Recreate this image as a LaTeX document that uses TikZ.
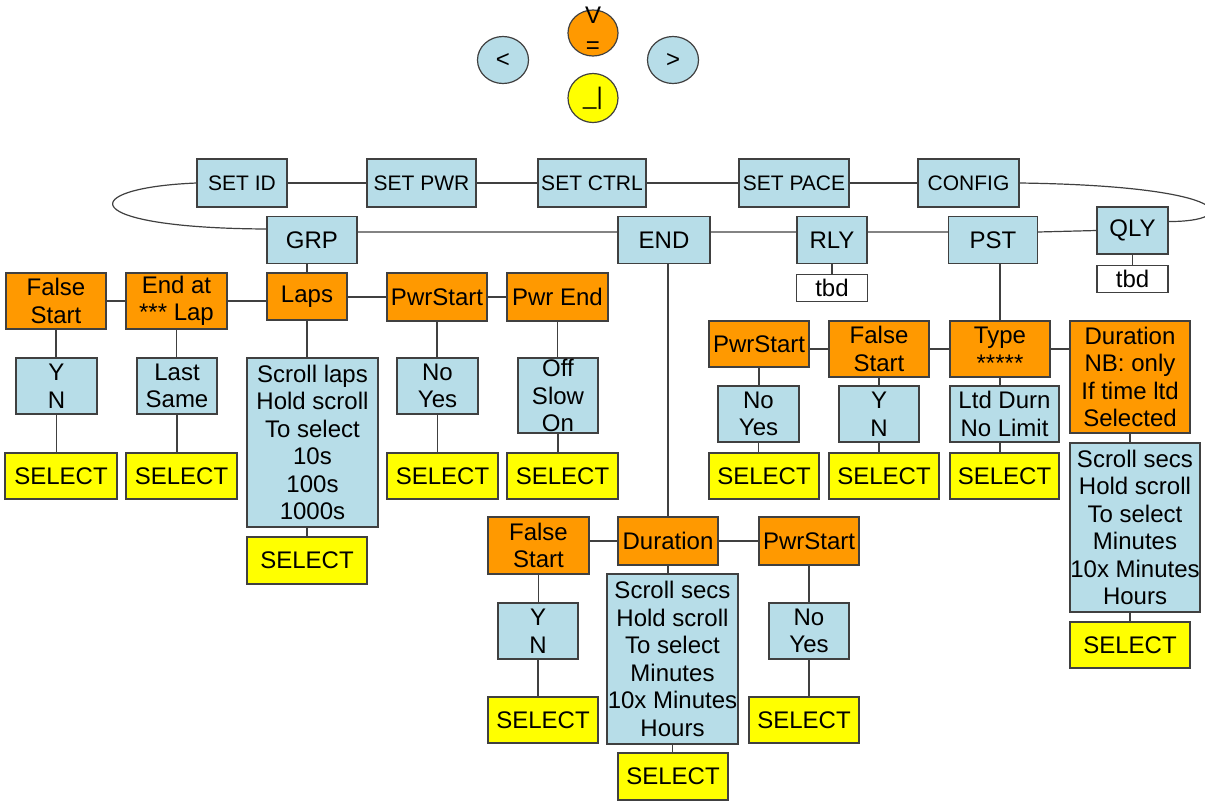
\documentclass[tikz,border=0pt]{standalone}
\usepackage{fontspec}
\setmainfont{Liberation Sans}
\usepackage{xcolor}
\usetikzlibrary{positioning,shapes.geometric}
\definecolor{boxblue}{RGB}{183,221,232}
\definecolor{boxorange}{RGB}{255,153,0}
\definecolor{boxyellow}{RGB}{255,255,0}
\definecolor{edgegray}{RGB}{64,64,64}
\tikzstyle{menubox} = [draw=edgegray, line width=1.2pt, rectangle, inner sep=0pt,
    align=center, fill=boxblue, font=\fontsize{24}{27.5}\selectfont]
\tikzstyle{topmenu} = [menubox, minimum height=48, font=\fontsize{21}{24}\selectfont]
\tikzstyle{optbox} = [menubox, fill=boxorange]
\tikzstyle{choicebox} = [menubox, fill=boxblue]
\tikzstyle{selbox} = [menubox, fill=boxyellow, minimum width=110, minimum height=46]
\tikzstyle{tbdbox} = [menubox, fill=white, minimum width=71, minimum height=27]
\tikzstyle{button} = [draw=edgegray, line width=1.2pt, ellipse, inner sep=0pt,
    minimum width=51, minimum height=47, font=\fontsize{24}{30}\selectfont]
\tikzstyle{link} = [draw=edgegray, line width=1.2pt]

\begin{document}
\begin{tikzpicture}[x=1pt, y=-1pt]
\useasboundingbox (0,0) rectangle (1205,801);

\node[button, fill=boxblue] (bleft) at (503,60) {<};
\node[button, fill=boxorange, minimum width=50, minimum height=46] (bup) at (593,33) {};
\node[align=center, inner sep=0pt, font=\fontsize{24}{30}\selectfont] (buptext) at (593,30.5) {V\\=};
\node[button, fill=boxyellow, minimum width=50, minimum height=49] (bdown) at (593,98) {\_|};
\node[button, fill=boxblue] (bright) at (673,60) {>};

\node[topmenu, minimum width=90] (setid) at (242,183) {SET ID};
\node[topmenu, minimum width=109] (setpwr) at (421.5,183) {SET PWR};
\node[topmenu, minimum width=108] (setctrl) at (592,183) {SET CTRL};
\node[topmenu, minimum width=110] (setpace) at (794,183) {SET PACE};
\node[topmenu, minimum width=101] (config) at (968.5,183) {CONFIG};

\node[menubox, minimum width=90, minimum height=47] (grp) at (312,240) {GRP};
\node[menubox, minimum width=92, minimum height=47] (endn) at (664,240) {END};
\node[menubox, minimum width=70, minimum height=47] (rly) at (832,240) {RLY};
\node[menubox, minimum width=89, minimum height=47] (pst) at (993,240) {PST};
\node[menubox, minimum width=71, minimum height=47] (qly) at (1132.5,230.5) {QLY};
\node[tbdbox, below=10pt of rly] (rlytbd) {tbd};
\node[tbdbox, below=10pt of qly] (qlytbd) {tbd};

\node[optbox, minimum width=100, minimum height=56] (fsA) at (56,301) {False\\Start};
\node[optbox, minimum width=101, minimum height=56] (endat) at (176.5,301) {End at\\*** Lap};
\node[optbox, minimum width=80, minimum height=47] (laps) at (307,296.5) {Laps};
\node[optbox, minimum width=100, minimum height=48] (pwrstartA) at (437,297) {PwrStart};
\node[optbox, minimum width=101, minimum height=48] (pwrend) at (557.5,297) {Pwr End};

\node[choicebox, minimum width=81, minimum height=56] (ynA) at (56.5,386) {Y\\N};
\node[choicebox, minimum width=80, minimum height=56] (lastsame) at (177,386) {Last\\Same};
\node[choicebox, minimum width=131, minimum height=169] (scrolllaps) at (312.5,442.5)
    {Scroll laps\\Hold scroll\\To select\\10s\\100s\\1000s};
\node[choicebox, minimum width=81, minimum height=56] (noyesA) at (437.5,386) {No\\Yes};
\node[choicebox, minimum width=80, minimum height=75] (offslow) at (558,395.5) {Off\\Slow\\On};

\node[selbox, minimum width=112] (selA) at (61,476) {SELECT};
\node[selbox, minimum width=111] (selB) at (181.5,476) {SELECT};
\node[selbox, minimum width=120, minimum height=47] (selC) at (307,560.5) {SELECT};
\node[selbox, minimum width=111] (selD) at (442.5,476) {SELECT};
\node[selbox, minimum width=111] (selE) at (562.5,476) {SELECT};

\node[optbox, minimum width=100, minimum height=46] (pwrstartB) at (759,344) {PwrStart};
\node[optbox, minimum width=100, minimum height=56] (fsB) at (879,349) {False\\Start};
\node[optbox, minimum width=100, minimum height=56] (type) at (1000,349) {Type\\*****};
\node[optbox, minimum width=120, minimum height=112] (durnb) at (1130,377)
    {Duration\\NB: only\\If time ltd\\Selected};
\node[choicebox, minimum width=81, minimum height=56] (noyesB) at (758.5,414) {No\\Yes};
\node[choicebox, minimum width=80, minimum height=56] (ynB) at (879,414) {Y\\N};
\node[choicebox, minimum width=109, minimum height=56] (ltd) at (1004.5,414) {Ltd Durn\\No Limit};
\node[choicebox, minimum width=130, minimum height=169] (scrollB) at (1135,527.5)
    {Scroll secs\\Hold scroll\\To select\\Minutes\\10x Minutes\\Hours};
\node[selbox] (selF) at (764,476) {SELECT};
\node[selbox] (selG) at (884,476) {SELECT};
\node[selbox, minimum width=109] (selH) at (1004.5,476) {SELECT};
\node[selbox, minimum width=120] (selI) at (1130,645) {SELECT};

\node[optbox, minimum width=101, minimum height=57] (fsC) at (538.5,545.5) {False\\Start};
\node[optbox, minimum width=100, minimum height=48] (duration) at (668,541) {Duration};
\node[optbox, minimum width=100, minimum height=48] (pwrstartC) at (809,541) {PwrStart};
\node[choicebox, minimum width=80, minimum height=56] (ynC) at (538,631) {Y\\N};
\node[choicebox, minimum width=131, minimum height=170] (scrollC) at (672.5,659)
    {Scroll secs\\Hold scroll\\To select\\Minutes\\10x Minutes\\Hours};
\node[choicebox, minimum width=80, minimum height=56] (noyesC) at (809,631) {No\\Yes};
\node[selbox] (selJ) at (543,720) {SELECT};
\node[selbox] (selK) at (804,720) {SELECT};
\node[selbox, minimum height=47] (selL) at (673,776.5) {SELECT};

\draw[link] (setid) -- (setpwr) -- (setctrl) -- (setpace) -- (config);
\draw[link] (setid.west) .. controls (75,188) and (75,228) .. ([yshift=11pt]grp.west);
\draw[link] (config.east) .. controls (1240,186) and (1240,222) .. ([yshift=9pt]qly.east);
\draw[link] ([yshift=8pt]grp.east) -- ([yshift=8pt]endn.west)
    ([yshift=8pt]endn.east) -- ([yshift=8pt]rly.west)
    ([yshift=8pt]rly.east) -- ([yshift=8pt]pst.west)
    ([yshift=8pt]pst.east) -- (qly.west);
\draw[link] (rly.south) -- (rlytbd.north) (qly.south) -- (qlytbd.north);

\draw[link] (laps.north) -- (laps.north |- grp.south);
\draw[link] (fsA.east) -- (endat.west) (endat.east) -- (endat.east -| laps.west)
    (pwrstartA.west) -- (pwrstartA.west -| laps.east) (pwrstartA.east) -- (pwrend.west);
\draw[link] (fsA.south) -- (fsA.south |- ynA.north) (ynA.south) -- (ynA.south |- selA.north)
    (endat.south) -- (endat.south |- lastsame.north) (lastsame.south) -- (lastsame.south |- selB.north)
    (laps.south) -- (laps.south |- scrolllaps.north) (laps.south |- scrolllaps.south) -- (laps.south |- selC.north)
    (pwrstartA.south) -- (pwrstartA.south |- noyesA.north) (noyesA.south) -- (noyesA.south |- selD.north)
    (pwrend.south) -- (pwrend.south |- offslow.north) (offslow.south) -- (offslow.south |- selE.north);

\draw[link] (type.north) -- (type.north |- pst.south);
\draw[link] (fsB.west) -- (fsB.west -| pwrstartB.east) (fsB.east) -- (type.west)
    (type.east) -- (type.east -| durnb.west);
\draw[link] (pwrstartB.south) -- (pwrstartB.south |- noyesB.north) (noyesB.south) -- (noyesB.south |- selF.north)
    (fsB.south) -- (fsB.south |- ynB.north) (ynB.south) -- (ynB.south |- selG.north)
    (type.south) -- (type.south |- ltd.north) (type.south |- ltd.south) -- (type.south |- selH.north)
    (durnb.south) -- (durnb.south |- scrollB.north) (durnb.south |- scrollB.south) -- (durnb.south |- selI.north);

\draw[link] (duration.north) -- (duration.north |- endn.south);
\draw[link] (duration.west) -- (duration.west -| fsC.east) (duration.east) -- (pwrstartC.west);
\draw[link] (fsC.south) -- (fsC.south |- ynC.north) (ynC.south) -- (ynC.south |- selJ.north)
    (duration.south) -- (duration.south |- scrollC.north) (scrollC.south) -- (scrollC.south |- selL.north)
    (pwrstartC.south) -- (pwrstartC.south |- noyesC.north) (noyesC.south) -- (noyesC.south |- selK.north);
\end{tikzpicture}
\end{document}
